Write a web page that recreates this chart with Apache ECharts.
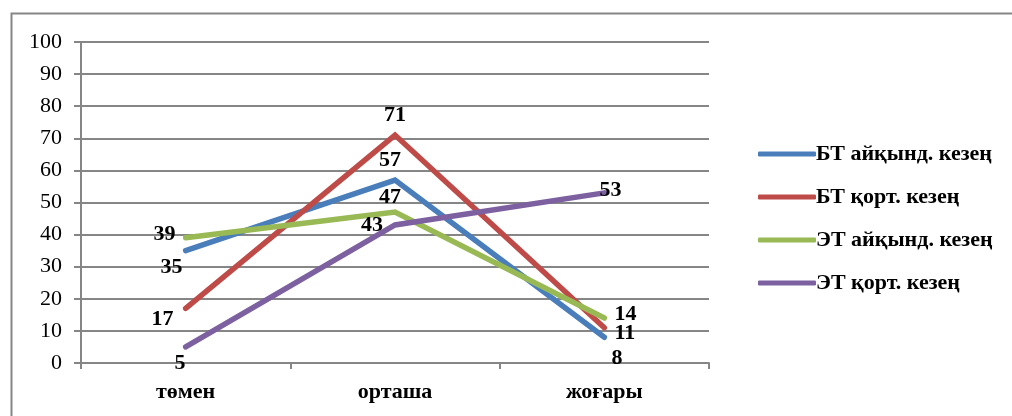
<!DOCTYPE html>
<html>
<head>
<meta charset="utf-8">
<script src="https://cdn.jsdelivr.net/npm/echarts@6/dist/echarts.min.js"></script>
<style>html,body{margin:0;padding:0;background:#fff}#c{width:1012px;height:416px}</style>
</head>
<body>
<div id="c"></div>
<script>
const categories = ['төмен', 'орташа', 'жоғары'];
const seriesNames = ['БТ айқынд. кезең', 'БТ қорт. кезең', 'ЭТ айқынд. кезең', 'ЭТ қорт. кезең'];
const btAiqynd = [35, 57, 8];
const btQort = [17, 71, 11];
const etAiqynd = [39, 47, 14];
const etQort = [5, 43, 53];
const yTicks = { min: 0, max: 100, interval: 10 };

const colors = ['#4A7EBB', '#BE4B48', '#98B954', '#7D60A0'];
const serif = 'Liberation Serif';
const FS = 22;
const labelBase = { show: true, fontFamily: serif, fontWeight: 'bold', fontSize: FS, color: '#000', distance: 5 };
// per-point label placements [position, offset]
const labelPlace = [
  [['left', [2, 17]], ['top', [-5, -4]], ['right', [2, 21]]],
  [['left', [-7, 11]], ['top', [0, -4]], ['right', [5, 6]]],
  [['left', [-5, -3]], ['top', [-5, 1]], ['right', [5, -4]]],
  [['left', [5, 16]], ['left', [-7, 0]], ['right', [-10, -3]]]
];
const datasets = [btAiqynd, btQort, etAiqynd, etQort];

const series = datasets.map((vals, si) => ({
  name: seriesNames[si],
  type: 'line',
  symbol: 'circle',
  symbolSize: 0.1,
  showSymbol: true,
  lineStyle: { width: 5.5, color: colors[si], cap: 'round', join: 'miter' },
  itemStyle: { color: colors[si] },
  data: vals.map((v, i) => ({
    value: v,
    label: Object.assign({}, labelBase, { position: labelPlace[si][i][0], offset: labelPlace[si][i][1] })
  }))
}));

const chart = echarts.init(document.getElementById('c'), null, { renderer: 'canvas' });
chart.setOption({
  animation: false,
  backgroundColor: '#fff',
  graphic: [{
    type: 'rect', left: 9, top: 11,
    shape: { width: 1100, height: 500 },
    style: { fill: 'none', stroke: '#868686', lineWidth: 2 }
  }],
  grid: { left: 81, right: 303, top: 42, bottom: 53 },
  legend: {
    orient: 'vertical',
    left: 753, top: 138,
    itemWidth: 58, itemHeight: 5, itemGap: 21,
    icon: 'roundRect',
    textStyle: { fontFamily: serif, fontWeight: 'bold', fontSize: FS, color: '#000', padding: [0, 0, 0, -5] },
    data: seriesNames
  },
  xAxis: {
    type: 'category',
    data: categories,
    boundaryGap: true,
    axisLine: { lineStyle: { color: '#868686', width: 2 } },
    axisTick: { show: true, length: 6, lineStyle: { color: '#868686', width: 2 } },
    axisLabel: { fontFamily: serif, fontWeight: 'bold', fontSize: FS, color: '#000', margin: 18 }
  },
  yAxis: {
    type: 'value',
    min: yTicks.min, max: yTicks.max, interval: yTicks.interval,
    axisLine: { show: true, lineStyle: { color: '#868686', width: 2 } },
    axisTick: { show: true, length: 7, lineStyle: { color: '#868686', width: 2 } },
    splitLine: { lineStyle: { color: '#868686', width: 2 } },
    axisLabel: { fontFamily: serif, fontSize: FS, color: '#000', margin: 19 }
  },
  series: series
});
</script>
</body>
</html>
